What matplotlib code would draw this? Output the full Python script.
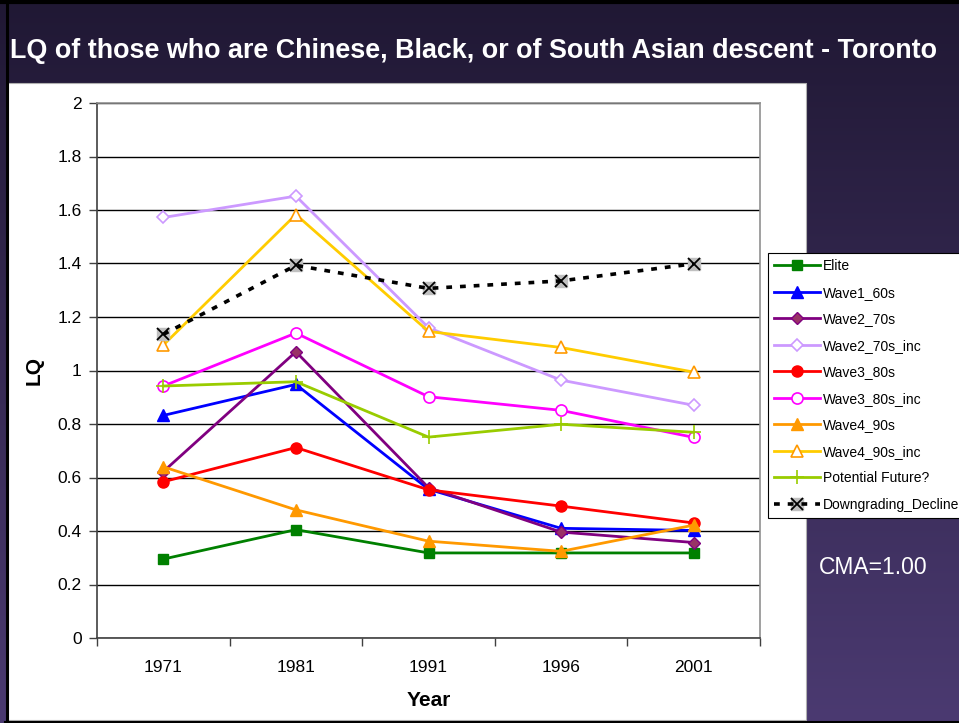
import matplotlib
matplotlib.use("Agg")
import matplotlib.pyplot as plt
import numpy as np
from matplotlib.patches import Rectangle
from matplotlib.lines import Line2D
from matplotlib.legend_handler import HandlerTuple
from matplotlib import font_manager

plt.rcParams['font.family'] = ['Liberation Sans', 'DejaVu Sans']

years = ["1971", "1981", "1991", "1996", "2001"]
elite = [0.295, 0.405, 0.318, 0.318, 0.318]
wave1_60s = [0.832, 0.948, 0.556, 0.410, 0.402]
wave2_70s = [0.622, 1.070, 0.562, 0.396, 0.357]
wave2_70s_inc = [1.572, 1.652, 1.160, 0.964, 0.870]
wave3_80s = [0.584, 0.712, 0.554, 0.493, 0.430]
wave3_80s_inc = [0.942, 1.140, 0.902, 0.851, 0.750]
wave4_90s = [0.640, 0.479, 0.362, 0.324, 0.422]
wave4_90s_inc = [1.095, 1.583, 1.146, 1.086, 0.994]
potential_future = [0.942, 0.958, 0.751, 0.799, 0.769]
downgrading_decline = [1.135, 1.393, 1.307, 1.335, 1.399]
ytick_labels = ['0', '0.2', '0.4', '0.6', '0.8', '1', '1.2', '1.4', '1.6', '1.8', '2']

W, H = 959, 723
fig = plt.figure(figsize=(W / 100, H / 100), dpi=100)

# slide background gradient
bg = fig.add_axes([0, 0, 1, 1], zorder=-10)
top = np.array([0x20, 0x18, 0x34]) / 255
bot = np.array([0x4b, 0x3a, 0x71]) / 255
t = np.linspace(0, 1, 256)[:, None]
grad = (top[None, :] * (1 - t) + bot[None, :] * t)[:, None, :]
bg.imshow(grad, aspect='auto', extent=[0, 1, 0, 1])
bg.set_xlim(0, 1)
bg.set_ylim(0, 1)
bg.axis('off')

def fx(px):
    return px / W

def fy(py):
    return 1 - py / H

# white chart panel
fig.patches.append(Rectangle((fx(8), fy(720)), fx(806) - fx(8), fy(83) - fy(720),
                             transform=fig.transFigure, facecolor='white',
                             edgecolor='#b0b0b0', linewidth=0.8, zorder=-5))
# black slide frame lines
fig.add_artist(Line2D([fx(6.5), fx(6.5)], [fy(723), fy(3)], transform=fig.transFigure,
                      color='black', linewidth=2.2))
fig.add_artist(Line2D([fx(5), fx(959)], [fy(721.5), fy(721.5)], transform=fig.transFigure,
                      color='black', linewidth=2.2))
fig.add_artist(Line2D([fx(0), fx(959)], [fy(1.5), fy(1.5)], transform=fig.transFigure,
                      color='black', linewidth=3))

installed = {f.name for f in font_manager.fontManager.ttflist}
if 'Liberation Sans Narrow' in installed:
    title_family, title_size = ['Liberation Sans Narrow', 'Liberation Sans'], 20.5
else:
    title_family, title_size = ['Liberation Sans', 'DejaVu Sans'], 19.4
fig.text(fx(474), fy(51), "LQ of those who are Chinese, Black, or of South Asian descent - Toronto",
         color='white', fontsize=title_size, fontweight='bold', ha='center', va='center',
         family=title_family)
fig.text(fx(873), fy(568), "CMA=1.00", color='white', fontsize=16.5, ha='center', va='center')

ax = fig.add_axes([fx(97), fy(638), fx(760) - fx(97), fy(103) - fy(638)])
ax.set_facecolor('white')
x = np.arange(len(years))

lw = 2.0
ms = 7
h_elite, = ax.plot(x, elite, color='#008000', lw=lw, marker='s', ms=ms,
                   mfc='#008000', mec='#008000', label='Elite')
h_w1, = ax.plot(x, wave1_60s, color='#0000FF', lw=lw, marker='^', ms=ms + 1,
                mfc='#0000FF', mec='#0000FF', label='Wave1_60s')
h_w2, = ax.plot(x, wave2_70s, color='#800080', lw=lw, marker='D', ms=ms - 1,
                mfc='#993366', mec='#800080', label='Wave2_70s')
h_w2i, = ax.plot(x, wave2_70s_inc, color='#CC99FF', lw=lw, marker='D', ms=ms - 1,
                 mfc='white', mec='#CC99FF', mew=1.2, label='Wave2_70s_inc')
h_w3, = ax.plot(x, wave3_80s, color='#FF0000', lw=lw, marker='o', ms=ms + 1,
                mfc='#FF0000', mec='#FF0000', label='Wave3_80s')
h_w3i, = ax.plot(x, wave3_80s_inc, color='#FF00FF', lw=lw, marker='o', ms=ms + 1,
                 mfc='white', mec='#FF00FF', mew=1.2, label='Wave3_80s_inc')
h_w4, = ax.plot(x, wave4_90s, color='#FF9900', lw=lw, marker='^', ms=ms + 1,
                mfc='#FF9900', mec='#FF9900', label='Wave4_90s')
h_w4i, = ax.plot(x, wave4_90s_inc, color='#FFCC00', lw=lw, marker='^', ms=ms + 1,
                 mfc='white', mec='#FF9900', mew=1.2, label='Wave4_90s_inc')
h_pf, = ax.plot(x, potential_future, color='#99CC00', lw=lw, marker='+', ms=ms + 3,
                mec='#99CC00', mew=1.2, label='Potential Future?')
h_dsq, = ax.plot(x, downgrading_decline, ls='none', marker='s', ms=ms + 1,
                 mfc='#C0C0C0', mec='#C0C0C0')
h_dx, = ax.plot(x, downgrading_decline, color='black', lw=2.6, ls=(0, (1.6, 2.2)),
                marker='x', ms=ms + 1, mec='black', mew=1.3, label='Downgrading_Decline')

ax.set_xlim(-0.5, len(years) - 0.5)
ax.set_ylim(0, 2)
ax.set_yticks(np.linspace(0, 2, len(ytick_labels)))
ax.set_yticklabels(ytick_labels)
ax.set_xticks(x)
ax.set_xticklabels(years)
ax.set_xticks(np.arange(-0.5, len(years), 1.0), minor=True)
ax.tick_params(axis='x', which='major', length=0, pad=16, labelsize=12.5)
ax.tick_params(axis='x', which='minor', length=6, width=1, color='#404040', direction='out')
ax.tick_params(axis='y', length=6, width=1, color='#404040', labelsize=12.5, pad=5)
ax.yaxis.grid(True, color='black', linewidth=1.0)
ax.set_axisbelow(True)
for s in ['left', 'bottom']:
    ax.spines[s].set_color('#404040')
    ax.spines[s].set_linewidth(1.2)
for s in ['top', 'right']:
    ax.spines[s].set_color('#909090')
    ax.spines[s].set_linewidth(1.2)

ax.set_xlabel('Year', fontsize=15, fontweight='bold', labelpad=11)
ax.set_ylabel('LQ', fontsize=15, fontweight='bold', labelpad=10)

handles = [h_elite, h_w1, h_w2, h_w2i, h_w3, h_w3i, h_w4, h_w4i, h_pf, (h_dsq, h_dx)]
labels = ['Elite', 'Wave1_60s', 'Wave2_70s', 'Wave2_70s_inc', 'Wave3_80s', 'Wave3_80s_inc',
          'Wave4_90s', 'Wave4_90s_inc', 'Potential Future?', 'Downgrading_Decline']
leg = fig.legend(handles, labels, loc='upper left', bbox_to_anchor=(fx(768), fy(253)),
                 fontsize=10.0, handlelength=3.3, handletextpad=0.2, labelspacing=0.9,
                 borderpad=0.45, borderaxespad=0, frameon=True, fancybox=False,
                 edgecolor='black', framealpha=1,
                 handler_map={tuple: HandlerTuple(ndivide=1, pad=0)})
leg.get_frame().set_linewidth(0.8)

fig.savefig('out.png', dpi=100)
